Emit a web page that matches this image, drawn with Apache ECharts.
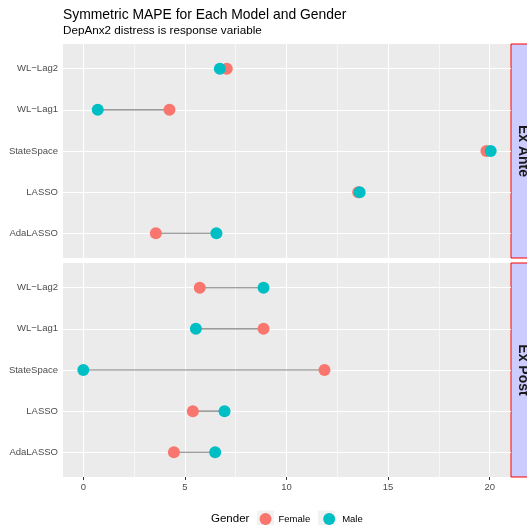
<!DOCTYPE html>
<html>
<head>
<meta charset="utf-8">
<script src="https://cdn.jsdelivr.net/npm/echarts@6/dist/echarts.min.js"></script>
<style>html,body{margin:0;padding:0;background:#fff}#c{width:527px;height:525px}</style>
</head>
<body>
<div id="c"></div>
<script>
// ---- data ----
var categories = ['AdaLASSO', 'LASSO', 'StateSpace', 'WL\u2212Lag1', 'WL\u2212Lag2'];
var panels = ['Ex Ante', 'Ex Post'];
var exAnteFemale = [3.57, 13.53, 19.84, 4.24, 7.06];
var exAnteMale   = [6.55, 13.60, 20.05, 0.71, 6.72];
var exPostFemale = [4.46, 5.39, 11.87, 8.87, 5.73];
var exPostMale   = [6.49, 6.95, 0.00, 5.54, 8.87];
var xTicks = [0, 5, 10, 15, 20];
var xMinor = [2.5, 7.5, 12.5, 17.5];
var yPos = [1, 2, 3, 4, 5];

var FONT = 'Liberation Sans, Arial, sans-serif';
var FEMALE = '#F8766D', MALE = '#00BFC4';
var chart = echarts.init(document.getElementById('c'), null, {renderer: 'canvas'});

var gridTops = [44, 263], gridH = 214, gridL = 63, gridW = 448;
var panelData = [[exAnteFemale, exAnteMale], [exPostFemale, exPostMale]];

var grids = [], xAxes = [], yAxes = [], series = [], graphics = [];
for (var p = 0; p < 2; p++) {
  grids.push({left: gridL, top: gridTops[p], width: gridW, height: gridH, show: true,
    backgroundColor: '#EBEBEB', borderWidth: 0, containLabel: false});
  xAxes.push({type: 'value', gridIndex: p, min: -1.0, max: 21.05,
    axisLine: {show: false}, splitLine: {show: false},
    axisTick: {show: p === 1, customValues: xTicks, length: 3, lineStyle: {color: '#333333', width: 1}},
    axisLabel: {show: p === 1, customValues: xTicks, color: '#4D4D4D', fontSize: 9.5, fontFamily: FONT, margin: 5}});
  yAxes.push({type: 'value', gridIndex: p, min: 0.4, max: 5.6,
    axisLine: {show: false}, splitLine: {show: false},
    axisTick: {show: true, customValues: yPos, length: 3, lineStyle: {color: '#333333', width: 1}},
    axisLabel: {customValues: yPos, color: '#4D4D4D', fontSize: 9.5, fontFamily: FONT, margin: 5,
      formatter: function (v) { return categories[Math.round(v) - 1]; }}});
  // grid lines
  series.push({type: 'scatter', xAxisIndex: p, yAxisIndex: p, data: [], silent: true, z: 1,
    markLine: {silent: true, z: 1, symbol: ['none', 'none'], label: {show: false}, animation: false,
      lineStyle: {color: '#FFFFFF', type: 'solid', width: 0.6},
      data: xMinor.map(function (v) { return {xAxis: v}; })}});
  series.push({type: 'scatter', xAxisIndex: p, yAxisIndex: p, data: [], silent: true, z: 1,
    markLine: {silent: true, z: 1, symbol: ['none', 'none'], label: {show: false}, animation: false,
      lineStyle: {color: '#FFFFFF', type: 'solid', width: 1.1},
      data: xTicks.map(function (v) { return {xAxis: v}; }).concat(yPos.map(function (v) { return {yAxis: v}; }))}});
  // connectors
  var f = panelData[p][0], m = panelData[p][1];
  for (var i = 0; i < categories.length; i++) {
    series.push({type: 'line', xAxisIndex: p, yAxisIndex: p, z: 2, silent: true, symbol: 'none',
      lineStyle: {color: '#808080', width: 1.1}, animation: false,
      data: [[f[i], yPos[i]], [m[i], yPos[i]]]});
  }
  series.push({name: 'Female', type: 'scatter', xAxisIndex: p, yAxisIndex: p, z: 3, symbolSize: 12,
    itemStyle: {color: FEMALE, opacity: 1}, animation: false,
    data: f.map(function (v, i) { return [v, yPos[i]]; })});
  series.push({name: 'Male', type: 'scatter', xAxisIndex: p, yAxisIndex: p, z: 4, symbolSize: 12,
    itemStyle: {color: MALE, opacity: 1}, animation: false,
    data: m.map(function (v, i) { return [v, yPos[i]]; })});
  // strip
  graphics.push({type: 'rect', shape: {x: 511, y: gridTops[p], width: 30, height: gridH},
    style: {fill: '#CCCCFF', stroke: '#FF0000', lineWidth: 1}, z: 1});
  graphics.push({type: 'text', x: 523, y: gridTops[p] + gridH / 2, rotation: -Math.PI / 2,
    style: {text: panels[p], fill: '#1A1A1A', font: 'bold 14px ' + FONT, textAlign: 'center', textVerticalAlign: 'middle'}, z: 2});
}
// legend decoration
graphics.push({type: 'text', x: 211, y: 519, style: {text: 'Gender', fill: '#000000', font: '11.5px ' + FONT, textVerticalAlign: 'middle'}, z: 2});
graphics.push({type: 'rect', shape: {x: 257, y: 510.5, width: 17, height: 17}, style: {fill: '#F2F2F2'}, z: 0});
graphics.push({type: 'rect', shape: {x: 318, y: 510.5, width: 17, height: 17}, style: {fill: '#F2F2F2'}, z: 0});

chart.setOption({
  animation: false,
  textStyle: {fontFamily: FONT},
  title: {text: 'Symmetric MAPE for Each Model and Gender', subtext: 'DepAnx2 distress is response variable',
    left: 58, top: 3, itemGap: 3,
    textStyle: {fontSize: 13.9, fontWeight: 'normal', color: '#000000', fontFamily: FONT},
    subtextStyle: {fontSize: 11.7, color: '#000000', fontFamily: FONT}},
  legend: {data: ['Female', 'Male'], left: 259.5, top: 513, icon: 'circle', itemWidth: 12, itemHeight: 12,
    itemGap: 13, z: 5, padding: 0,
    textStyle: {fontSize: 9.5, color: '#000000', fontFamily: FONT, padding: [0, 0, 0, 2]}},
  grid: grids, xAxis: xAxes, yAxis: yAxes, series: series, graphic: graphics
});
</script>
</body>
</html>
